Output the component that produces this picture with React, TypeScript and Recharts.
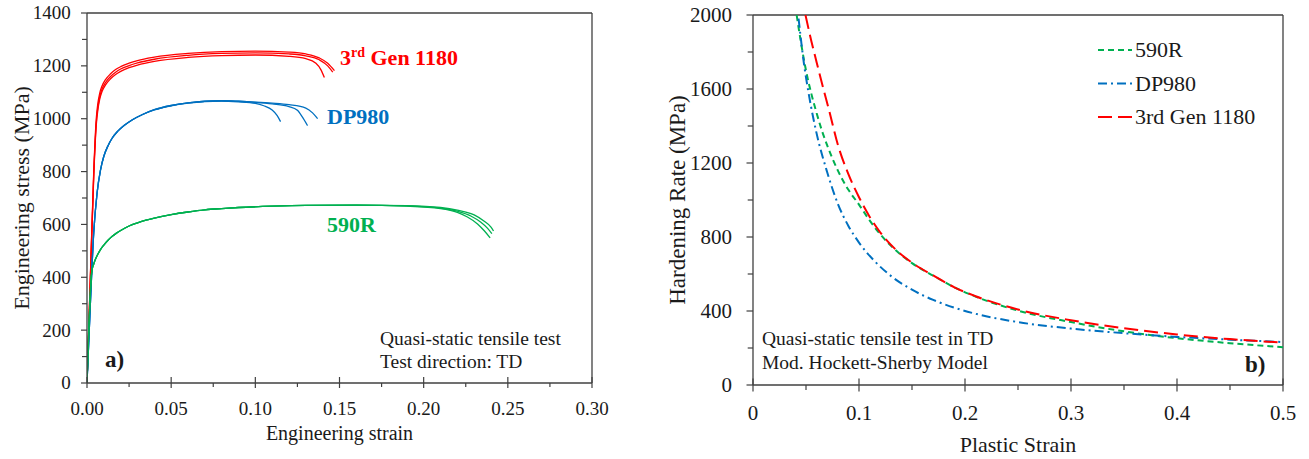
import React from "react";
import { LineChart, Line, XAxis, YAxis, Legend, ReferenceLine } from "recharts";

const FONT = "'Liberation Serif', 'Times New Roman', serif";
const AXIS = "#404040";

const RED = "#FF0000";
const BLUE = "#0070C0";
const GREEN = "#00B050";

// a) engineering strain vs engineering stress (MPa), three repeats per steel
const gen1180Run1: [number, number][] = [
  [0, 0], [0.002, 400], [0.004, 800], [0.0055, 1000], [0.0065, 1060], [0.0075, 1095], [0.009, 1125],
  [0.011, 1148], [0.014, 1170], [0.017, 1186], [0.02, 1197], [0.025, 1210], [0.03, 1220], [0.04, 1233],
  [0.06, 1247], [0.08, 1254], [0.1, 1256], [0.12, 1252], [0.13, 1245], [0.138, 1230], [0.143, 1210],
  [0.147, 1182],
];
const gen1180Run2: [number, number][] = [
  [0, 0], [0.002, 400], [0.004, 790], [0.0055, 985], [0.0065, 1045], [0.0075, 1082], [0.009, 1113],
  [0.011, 1137], [0.014, 1160], [0.017, 1176], [0.02, 1188], [0.025, 1201], [0.03, 1211], [0.04, 1225],
  [0.06, 1240], [0.08, 1247], [0.1, 1249], [0.12, 1245], [0.13, 1238], [0.138, 1223], [0.143, 1200],
  [0.146, 1176],
];
const gen1180Run3: [number, number][] = [
  [0, 0], [0.002, 390], [0.004, 780], [0.0055, 975], [0.0065, 1035], [0.0075, 1072], [0.009, 1104],
  [0.011, 1128], [0.014, 1151], [0.017, 1167], [0.02, 1179], [0.025, 1193], [0.03, 1203], [0.04, 1217],
  [0.06, 1232], [0.08, 1239], [0.1, 1241], [0.12, 1236], [0.13, 1227], [0.136, 1210], [0.139, 1185],
  [0.141, 1156],
];

const dp980Run1: [number, number][] = [
  [0, 0], [0.002, 300], [0.004, 570], [0.006, 720], [0.008, 805], [0.01, 858], [0.0125, 898],
  [0.015, 927], [0.018, 951], [0.022, 974], [0.027, 996], [0.033, 1016], [0.04, 1033], [0.05, 1049],
  [0.06, 1059], [0.07, 1065], [0.08, 1067], [0.09, 1064], [0.1, 1058], [0.105, 1049], [0.11, 1033],
  [0.113, 1012], [0.115, 989],
];
const dp980Run2: [number, number][] = [
  [0, 0], [0.002, 300], [0.004, 570], [0.006, 720], [0.008, 805], [0.01, 858], [0.0125, 898],
  [0.015, 927], [0.018, 951], [0.022, 974], [0.027, 996], [0.033, 1016], [0.04, 1034], [0.05, 1050],
  [0.06, 1060], [0.07, 1066], [0.08, 1068], [0.09, 1066], [0.1, 1062], [0.11, 1056], [0.12, 1046],
  [0.125, 1032], [0.128, 1006], [0.131, 974],
];
const dp980Run3: [number, number][] = [
  [0, 0], [0.002, 300], [0.004, 570], [0.006, 720], [0.008, 805], [0.01, 858], [0.0125, 898],
  [0.015, 927], [0.018, 951], [0.022, 974], [0.027, 996], [0.033, 1016], [0.04, 1034], [0.05, 1050],
  [0.06, 1060], [0.07, 1066], [0.08, 1068], [0.09, 1066], [0.1, 1063], [0.11, 1059], [0.12, 1053],
  [0.13, 1040], [0.134, 1022], [0.137, 1000],
];

const r590Run1: [number, number][] = [
  [0, 0], [0.0028, 420], [0.004, 450], [0.005, 468], [0.0065, 488], [0.008, 505], [0.01, 522],
  [0.0125, 540], [0.015, 555], [0.0175, 567], [0.02, 577], [0.025, 594], [0.03, 606], [0.035, 616],
  [0.04, 624], [0.05, 637], [0.06, 647], [0.07, 655], [0.08, 660], [0.09, 664], [0.11, 669],
  [0.13, 672], [0.16, 673], [0.19, 669], [0.21, 660], [0.22, 646], [0.226, 628], [0.232, 602],
  [0.236, 576], [0.2395, 549],
];
const r590Run2: [number, number][] = [
  [0, 0], [0.0028, 420], [0.004, 450], [0.005, 468], [0.0065, 488], [0.008, 505], [0.01, 522],
  [0.0125, 540], [0.015, 555], [0.0175, 567], [0.02, 577], [0.025, 594], [0.03, 606], [0.035, 616],
  [0.04, 624], [0.05, 637], [0.06, 647], [0.07, 655], [0.08, 660], [0.09, 664], [0.11, 669],
  [0.13, 672], [0.16, 673], [0.19, 670], [0.21, 662], [0.22, 650], [0.228, 632], [0.234, 608],
  [0.238, 585], [0.2405, 565],
];
const r590Run3: [number, number][] = [
  [0, 0], [0.0028, 420], [0.004, 450], [0.005, 468], [0.0065, 488], [0.008, 505], [0.01, 522],
  [0.0125, 540], [0.015, 555], [0.0175, 567], [0.02, 577], [0.025, 594], [0.03, 606], [0.035, 616],
  [0.04, 624], [0.05, 637], [0.06, 647], [0.07, 655], [0.08, 660], [0.09, 664], [0.11, 669],
  [0.13, 672], [0.16, 673], [0.19, 671], [0.21, 664], [0.22, 654], [0.23, 636], [0.236, 612],
  [0.24, 590], [0.2415, 575],
];

// b) plastic strain vs hardening rate (MPa)
const hard590R: [number, number][] = [
  [0.0412, 2000], [0.045, 1860], [0.05, 1700], [0.055, 1575], [0.06, 1470], [0.065, 1375],
  [0.07, 1295], [0.08, 1160], [0.09, 1055], [0.1, 975], [0.11, 890], [0.12, 815], [0.135, 727],
  [0.15, 659], [0.17, 591], [0.19, 528], [0.21, 478], [0.25, 402], [0.3, 340], [0.35, 290],
  [0.4, 253], [0.45, 226], [0.5, 204],
];
const hardDP980: [number, number][] = [
  [0.043, 1980], [0.048, 1740], [0.053, 1560], [0.06, 1360], [0.07, 1150], [0.08, 980], [0.09, 860],
  [0.1, 770], [0.115, 668], [0.13, 590], [0.15, 515], [0.17, 460], [0.19, 418], [0.21, 385],
  [0.25, 340], [0.3, 305], [0.35, 280], [0.4, 260], [0.45, 245], [0.5, 232],
];
const hardGen1180: [number, number][] = [
  [0.0495, 2000], [0.055, 1860], [0.06, 1745], [0.066, 1610], [0.072, 1480], [0.08, 1300],
  [0.09, 1140], [0.1, 1015], [0.11, 910], [0.12, 825], [0.135, 730], [0.15, 661], [0.17, 592],
  [0.19, 528], [0.21, 480], [0.25, 408], [0.3, 350], [0.35, 307], [0.4, 273], [0.45, 248], [0.5, 229],
];

const strainMajor = [0, 0.05, 0.1, 0.15, 0.2, 0.25, 0.3];
const strainMinor = [0.025, 0.075, 0.125, 0.175, 0.225, 0.275];
const stressMajor = [0, 200, 400, 600, 800, 1000, 1200, 1400];
const stressMinor = [100, 300, 500, 700, 900, 1100, 1300];
const plasticMajor = [0, 0.1, 0.2, 0.3, 0.4, 0.5];
const plasticMinor = [0.05, 0.15, 0.25, 0.35, 0.45];
const hardMajor = [0, 400, 800, 1200, 1600, 2000];
const hardMinor = [200, 600, 1000, 1400, 1800];

const panelA = [
  { id: "r1", pts: gen1180Run1, color: RED },
  { id: "r2", pts: gen1180Run2, color: RED },
  { id: "r3", pts: gen1180Run3, color: RED },
  { id: "b1", pts: dp980Run1, color: BLUE },
  { id: "b2", pts: dp980Run2, color: BLUE },
  { id: "b3", pts: dp980Run3, color: BLUE },
  { id: "g1", pts: r590Run1, color: GREEN },
  { id: "g2", pts: r590Run2, color: GREEN },
  { id: "g3", pts: r590Run3, color: GREEN },
];

const panelB = [
  { name: "590R", pts: hard590R, color: GREEN, dash: "6 4" },
  { name: "DP980", pts: hardDP980, color: BLUE, dash: "9 4 2 4" },
  { name: "3rd Gen 1180", pts: hardGen1180, color: RED, dash: "14 6" },
];

const toRows = (pts: [number, number][]) => pts.map(([x, y]) => ({ x, y }));
const sorted = (a: number[], b: number[]) => [...a, ...b].sort((p, q) => p - q);
const isIn = (list: number[], v: number) => list.some((m) => Math.abs(m - v) < 1e-9);

type TickCfg = {
  majors: number[];
  fmt: (v: number) => string;
  size: number;
  gap: number;
  inner: number;
  outer: number;
  minor: number;
};

const xTick = (cfg: TickCfg) => (p: any) => {
  const v = p.payload.value;
  const major = isIn(cfg.majors, v);
  return (
    <g>
      <line x1={p.x} x2={p.x} y1={p.y - (major ? cfg.inner : 0)} y2={p.y + (major ? cfg.outer : cfg.minor)} stroke={AXIS} strokeWidth={1.2} />
      {major && (
        <text x={p.x} y={p.y + cfg.gap} textAnchor="middle" fontFamily={FONT} fontSize={cfg.size} fill="#1a1a1a">
          {cfg.fmt(v)}
        </text>
      )}
    </g>
  );
};

const yTick = (cfg: TickCfg) => (p: any) => {
  const v = p.payload.value;
  const major = isIn(cfg.majors, v);
  return (
    <g>
      <line x1={p.x - (major ? cfg.outer : cfg.minor)} x2={p.x} y1={p.y} y2={p.y} stroke={AXIS} strokeWidth={1.2} />
      {major && (
        <text x={p.x - cfg.gap} y={p.y} dy="0.34em" textAnchor="end" fontFamily={FONT} fontSize={cfg.size} fill="#1a1a1a">
          {cfg.fmt(v)}
        </text>
      )}
    </g>
  );
};

const xTitle = (text: string, baseline: number, size: number) => (props: any) => {
  const vb = props.viewBox || {};
  const cx = (vb.x ?? 0) + (vb.width ?? 0) / 2;
  return (
    <text x={cx} y={baseline} textAnchor="middle" fontFamily={FONT} fontSize={size} fill="#1a1a1a">
      {text}
    </text>
  );
};

const yTitle = (text: string, cx: number, size: number) => (props: any) => {
  const vb = props.viewBox || {};
  const cy = vb.height ? vb.y + vb.height / 2 : 200;
  return (
    <text x={cx} y={cy} transform={`rotate(-90 ${cx} ${cy})`} textAnchor="middle" dominantBaseline="central" fontFamily={FONT} fontSize={size} fill="#1a1a1a">
      {text}
    </text>
  );
};

const axisLine = { stroke: AXIS, strokeWidth: 1.3 };

function HardeningLegend() {
  return (
    <svg width={190} height={100} style={{ display: "block" }}>
      {panelB.map((s, i) => {
        const y = 12 + i * 33.5;
        return (
          <g key={s.name}>
            <line x1={0} x2={34} y1={y} y2={y} stroke={s.color} strokeWidth={2} strokeDasharray={s.dash} />
            <text x={37} y={y + 7} fontFamily={FONT} fontSize={22} fill="#1a1a1a">
              {s.name}
            </text>
          </g>
        );
      })}
    </svg>
  );
}

export default function App() {
  return (
    <div style={{ position: "absolute", left: 0, top: 0, width: 1309, height: 459, background: "#fff" }}>
      <div style={{ position: "absolute", left: 0, top: 0 }}>
        <LineChart width={610} height={459} margin={{ top: 13, right: 18, bottom: 0, left: 0 }}>
          <XAxis
            type="number"
            dataKey="x"
            domain={[0, 0.3]}
            ticks={sorted(strainMajor, strainMinor)}
            interval={0}
            height={76}
            tickSize={0}
            tickMargin={0}
            tickLine={false}
            axisLine={axisLine}
            tick={xTick({ majors: strainMajor, fmt: (v) => v.toFixed(2), size: 19, gap: 31.5, inner: 6, outer: 5, minor: 4 })}
            label={xTitle("Engineering strain", 440, 20)}
            allowDataOverflow
          />
          <YAxis
            type="number"
            domain={[0, 1400]}
            ticks={sorted(stressMajor, stressMinor)}
            interval={0}
            width={87}
            tickSize={0}
            tickMargin={0}
            tickLine={false}
            axisLine={axisLine}
            tick={yTick({ majors: stressMajor, fmt: (v) => String(v), size: 19, gap: 16.3, inner: 0, outer: 6, minor: 5 })}
            label={yTitle("Engineering stress (MPa)", 21, 22)}
            allowDataOverflow
          />
          <ReferenceLine y={1400} stroke={AXIS} strokeWidth={1.3} />
          <ReferenceLine x={0.3} stroke={AXIS} strokeWidth={1.3} />
          {panelA.map((s) => (
            <Line
              key={s.id}
              data={toRows(s.pts)}
              dataKey="y"
              type="monotone"
              stroke={s.color}
              strokeWidth={1.3}
              dot={false}
              isAnimationActive={false}
            />
          ))}
        </LineChart>
      </div>

      <div style={{ position: "absolute", left: 620, top: 0 }}>
        <LineChart width={689} height={459} margin={{ top: 15, right: 26, bottom: 0, left: 0 }}>
          <XAxis
            type="number"
            dataKey="x"
            domain={[0, 0.5]}
            ticks={sorted(plasticMajor, plasticMinor)}
            interval={0}
            height={74}
            tickSize={0}
            tickMargin={0}
            tickLine={false}
            axisLine={axisLine}
            tick={xTick({ majors: plasticMajor, fmt: (v) => String(v), size: 21, gap: 35, inner: 6.5, outer: 6.5, minor: 5 })}
            label={xTitle("Plastic Strain", 451.5, 22)}
            allowDataOverflow
          />
          <YAxis
            type="number"
            domain={[0, 2000]}
            ticks={sorted(hardMajor, hardMinor)}
            interval={0}
            width={133}
            tickSize={0}
            tickMargin={0}
            tickLine={false}
            axisLine={axisLine}
            tick={yTick({ majors: hardMajor, fmt: (v) => String(v), size: 21, gap: 21, inner: 0, outer: 6.5, minor: 5.3 })}
            label={yTitle("Hardening Rate (MPa)", 57, 23)}
            allowDataOverflow
          />
          <ReferenceLine y={2000} stroke={AXIS} strokeWidth={1.3} />
          <ReferenceLine x={0.5} stroke={AXIS} strokeWidth={1.3} />
          <Legend
            layout="vertical"
            align="center"
            verticalAlign="middle"
            content={() => <HardeningLegend />}
            wrapperStyle={{ left: 478, top: 38, width: 190, height: 100 }}
          />
          {panelB.map((s) => (
            <Line
              key={s.name}
              name={s.name}
              data={toRows(s.pts)}
              dataKey="y"
              type="monotone"
              stroke={s.color}
              strokeWidth={2}
              strokeDasharray={s.dash}
              dot={false}
              isAnimationActive={false}
            />
          ))}
        </LineChart>
      </div>

      <svg width={1309} height={459} style={{ position: "absolute", left: 0, top: 0, pointerEvents: "none" }}>
        <g fontFamily={FONT}>
          <text x={340} y={65} fontSize={22} fontWeight="bold" fill={RED}>
            <tspan>3</tspan>
            <tspan dy={-8} fontSize={14}>rd</tspan>
            <tspan dy={8}> Gen 1180</tspan>
          </text>
          <text x={327} y={124} fontSize={22} fontWeight="bold" fill={BLUE}>DP980</text>
          <text x={327} y={232} fontSize={22} fontWeight="bold" fill={GREEN}>590R</text>
          <text x={380} y={345} fontSize={19.5} fill="#1a1a1a">Quasi-static tensile test</text>
          <text x={380} y={368} fontSize={19.5} fill="#1a1a1a">Test direction: TD</text>
          <text x={105} y={367} fontSize={23} fontWeight="bold" fill="#1a1a1a">a)</text>
          <text x={762} y={345} fontSize={19.5} fill="#1a1a1a">Quasi-static tensile test in TD</text>
          <text x={762} y={369} fontSize={19.5} fill="#1a1a1a">Mod. Hockett-Sherby Model</text>
          <text x={1245} y={372} fontSize={23} fontWeight="bold" fill="#1a1a1a">b)</text>
        </g>
      </svg>
    </div>
  );
}
